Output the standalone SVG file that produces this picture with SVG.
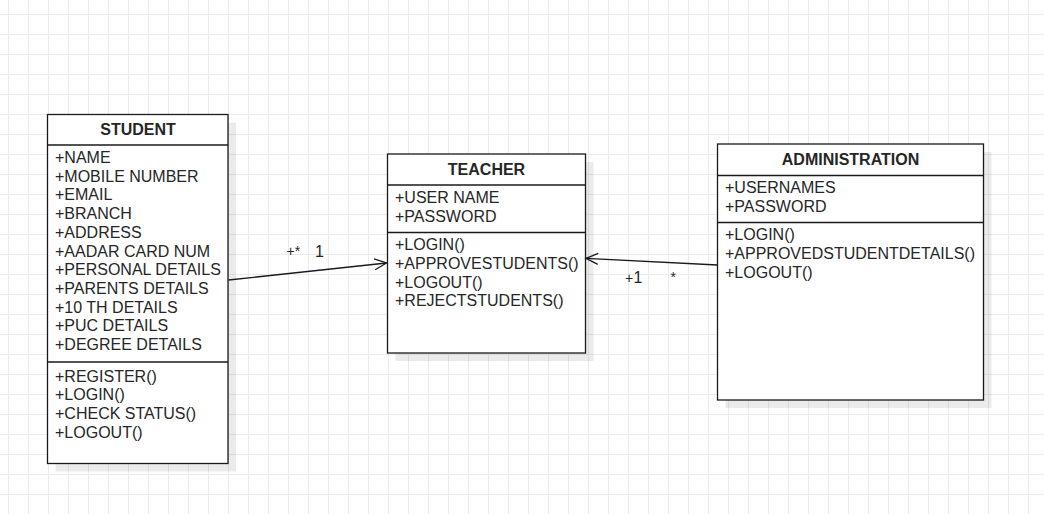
<svg xmlns="http://www.w3.org/2000/svg" width="1044" height="514" viewBox="0 0 1044 514">
  <defs>
    <pattern id="grid" x="8" y="14" width="20" height="20" patternUnits="userSpaceOnUse">
      <path d="M 0.5 0 V 20 M 0 0.5 H 20" fill="none" stroke="#ebebeb" stroke-width="1"/>
    </pattern>
    <marker id="open" markerWidth="16" markerHeight="14" refX="13" refY="7" orient="auto" markerUnits="userSpaceOnUse">
      <path d="M 1 1.5 L 13 7 L 1 12.5" fill="none" stroke="#1a1a1a" stroke-width="1.3"/>
    </marker>
  </defs>
  <style>
    .box { fill: #ffffff; stroke: #1a1a1a; stroke-width: 1.3; }
    .shadow { fill: #000000; fill-opacity: 0.08; }
    .sep { stroke: #1a1a1a; stroke-width: 1.3; }
    text { font-family: "Liberation Sans", Arial, sans-serif; fill: #262626; }
    .t { font-size: 16px; }
    .h { font-size: 16px; font-weight: bold; text-anchor: middle; }
    .s { font-size: 14px; }
    .edge { fill: none; stroke: #1a1a1a; stroke-width: 1.3; }
  </style>
  <rect x="0" y="0" width="1044" height="514" fill="#ffffff"/>
  <rect x="0" y="0" width="1044" height="514" fill="url(#grid)"/>

  <g id="student">
    <rect class="shadow" x="55.5" y="122.5" width="180.5" height="349"/>
    <rect class="box" x="47.5" y="114.5" width="180.5" height="349"/>
    <line class="sep" x1="47.5" y1="145" x2="228" y2="145"/>
    <line class="sep" x1="47.5" y1="362" x2="228" y2="362"/>
    <text class="h" x="138" y="135">STUDENT</text>
    <text class="t" x="55" y="163">+NAME</text>
    <text class="t" x="55" y="181.7">+MOBILE NUMBER</text>
    <text class="t" x="55" y="200.4">+EMAIL</text>
    <text class="t" x="55" y="219.1">+BRANCH</text>
    <text class="t" x="55" y="237.8">+ADDRESS</text>
    <text class="t" x="55" y="256.5">+AADAR CARD NUM</text>
    <text class="t" x="55" y="275.2">+PERSONAL DETAILS</text>
    <text class="t" x="55" y="293.9">+PARENTS DETAILS</text>
    <text class="t" x="55" y="312.6">+10 TH DETAILS</text>
    <text class="t" x="55" y="331.3">+PUC DETAILS</text>
    <text class="t" x="55" y="350">+DEGREE DETAILS</text>
    <text class="t" x="55" y="381.5">+REGISTER()</text>
    <text class="t" x="55" y="400.2">+LOGIN()</text>
    <text class="t" x="55" y="418.9">+CHECK STATUS()</text>
    <text class="t" x="55" y="437.6">+LOGOUT()</text>
  </g>

  <g id="teacher">
    <rect class="shadow" x="395.5" y="162" width="198" height="199"/>
    <rect class="box" x="387.5" y="154" width="198" height="199"/>
    <line class="sep" x1="387.5" y1="185" x2="585.5" y2="185"/>
    <line class="sep" x1="387.5" y1="232.5" x2="585.5" y2="232.5"/>
    <text class="h" x="486.5" y="175">TEACHER</text>
    <text class="t" x="395" y="203">+USER NAME</text>
    <text class="t" x="395" y="221.7">+PASSWORD</text>
    <text class="t" x="395" y="250.3">+LOGIN()</text>
    <text class="t" x="395" y="269">+APPROVESTUDENTS()</text>
    <text class="t" x="395" y="287.7">+LOGOUT()</text>
    <text class="t" x="395" y="306.4">+REJECTSTUDENTS()</text>
  </g>

  <g id="administration">
    <rect class="shadow" x="725.5" y="152" width="266" height="256"/>
    <rect class="box" x="717.5" y="144" width="266" height="256"/>
    <line class="sep" x1="717.5" y1="175.5" x2="983.5" y2="175.5"/>
    <line class="sep" x1="717.5" y1="222.5" x2="983.5" y2="222.5"/>
    <text class="h" x="850.5" y="165">ADMINISTRATION</text>
    <text class="t" x="725" y="193">+USERNAMES</text>
    <text class="t" x="725" y="211.7">+PASSWORD</text>
    <text class="t" x="725" y="240.3">+LOGIN()</text>
    <text class="t" x="725" y="259">+APPROVEDSTUDENTDETAILS()</text>
    <text class="t" x="725" y="277.7">+LOGOUT()</text>
  </g>

  <g id="connectors">
    <path class="edge" d="M 228.5 280 L 386.5 263" marker-end="url(#open)"/>
    <path class="edge" d="M 717.5 265 L 586 258.3" marker-end="url(#open)"/>
    <text class="s" x="286.5" y="256">+*</text>
    <text class="t" x="315" y="256.7">1</text>
    <text class="s" x="625" y="282.5">+</text>
    <text class="t" x="633.5" y="283">1</text>
    <text class="s" x="670.5" y="281.5">*</text>
  </g>
</svg>
